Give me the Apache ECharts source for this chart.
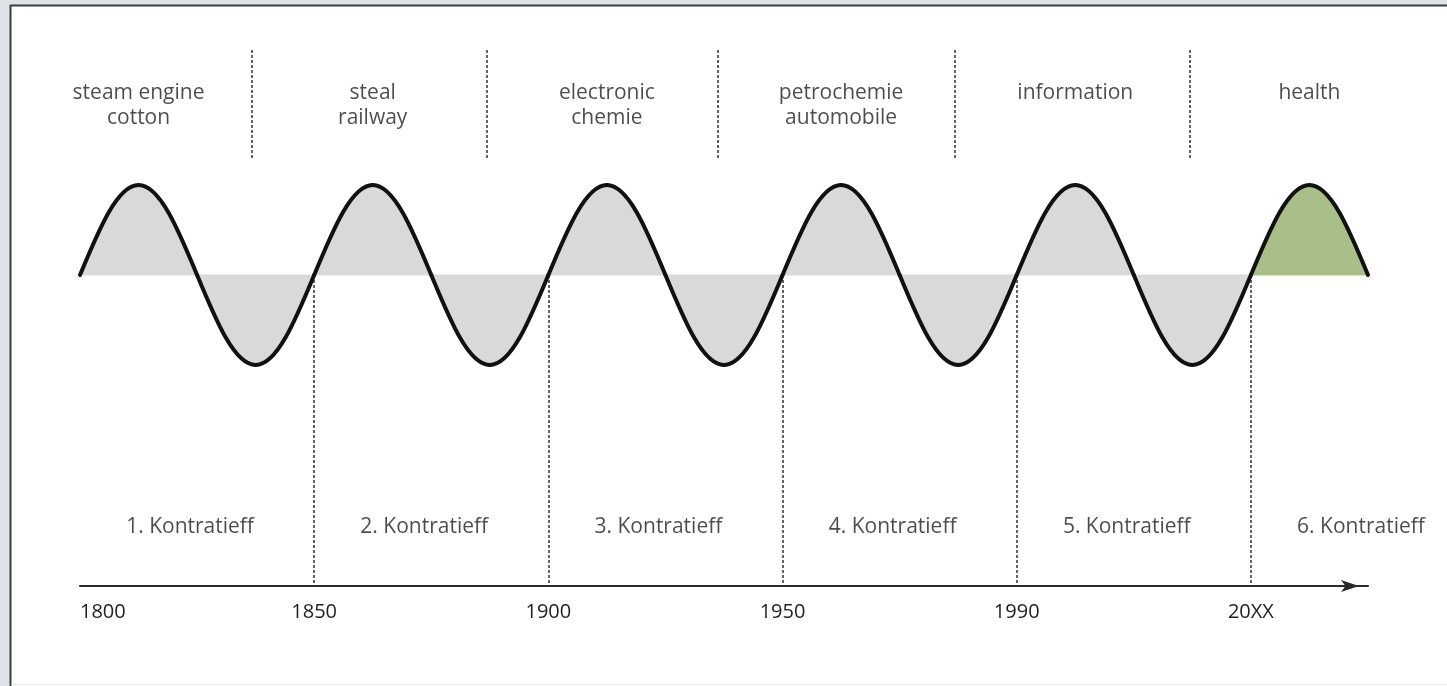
<!DOCTYPE html>
<html>
<head>
<meta charset="utf-8">
<script src="https://cdn.jsdelivr.net/npm/echarts@6/dist/echarts.min.js"></script>
<style>
html,body{margin:0;padding:0;background:#dfe3e7;}
#chart{width:1447px;height:686px;}
</style>
</head>
<body>
<div id="chart"></div>
<script>
// Wave key points (crossings and extremes), position in cycles (1 unit = one Kondratieff cycle)
const waveX = [0,0.25,0.5,0.75,1,1.25,1.5,1.75,2,2.25,2.5,2.75,3,3.25,3.5,3.75,4,4.25,4.5,4.75,5,5.25,5.5];
const waveY = [0,1,0,-1,0,1,0,-1,0,1,0,-1,0,1,0,-1,0,1,0,-1,0,1,0];
const tickLabels = ['1800','1850','1900','1950','1990','20XX'];
const industries = ['steam engine\ncotton','steal\nrailway','electronic\nchemie','petrochemie\nautomobile','information','health'];
const waveNames = ['1. Kontratieff','2. Kontratieff','3. Kontratieff','4. Kontratieff','5. Kontratieff','6. Kontratieff'];
const cycleStarts = [1,2,3,4,5];
const dividers = [0.735,1.735,2.725,3.735,4.74];
const greenStart = 5;

const segments = [];
for (let i = 1; i < waveX.length; i++) segments.push([waveX[i-1], waveY[i-1], waveX[i], waveY[i]]);

const FONT = 'Open Sans';
const TXT = '#1f1f1f';
const Y_MIN = -3.456, Y_MAX = 2.5;
const GRAY = '#d9d9d9', GREEN = '#a9bf8a';

const chart = echarts.init(document.getElementById('chart'), null, {renderer:'canvas'});
const dashStyle = {color:'#333333', width:1.5, type:[3,2]};

function renderSegment(params, api) {
  const x0 = api.value(0), y0 = api.value(1), x1 = api.value(2), y1 = api.value(3);
  const a = api.coord([x0, y0]);
  const b = api.coord([x1, y1]);
  const ba = api.coord([x0, 0]);
  const bb = api.coord([x1, 0]);
  const dx = b[0] - a[0], dy = b[1] - a[1];
  let c1, c2;
  if (y0 === 0) { // crossing -> extreme (quarter sine)
    c1 = [a[0] + 0.3265 * dx, a[1] + 0.5128 * dy];
    c2 = [a[0] + 0.6379 * dx, b[1]];
  } else {        // extreme -> crossing
    c1 = [a[0] + 0.3621 * dx, a[1]];
    c2 = [a[0] + 0.6735 * dx, a[1] + 0.4872 * dy];
  }
  const curve = 'C' + c1[0] + ' ' + c1[1] + ' ' + c2[0] + ' ' + c2[1] + ' ' + b[0] + ' ' + b[1];
  const area = 'M' + ba[0] + ' ' + ba[1] + ' L' + a[0] + ' ' + a[1] + ' ' + curve + ' L' + bb[0] + ' ' + bb[1] + ' Z';
  const line = 'M' + a[0] + ' ' + a[1] + ' ' + curve;
  const fill = x0 >= greenStart ? GREEN : GRAY;
  return {
    type:'group',
    children:[
      {type:'path', shape:{pathData:area}, style:{fill: fill, stroke: fill, lineWidth:1}, z2:0},
      {type:'path', shape:{pathData:line}, style:{fill:null, stroke:'#111111', lineWidth:4, lineCap:'round', lineJoin:'round'}, z2:10}
    ]
  };
}

chart.setOption({
  animation:false,
  backgroundColor:'#dfe3e7',
  graphic:[
    {type:'rect', z:-10, shape:{x:10,y:5,width:1437,height:681}, style:{fill:'#ffffff'}},
    {type:'line', z:-9, shape:{x1:10.5,y1:5,x2:10.5,y2:686}, style:{stroke:'#3c3c3c',lineWidth:2}},
    {type:'line', z:-9, shape:{x1:10,y1:5.5,x2:1447,y2:5.5}, style:{stroke:'#3c3c3c',lineWidth:2}},
    {type:'line', z:-9, shape:{x1:11,y1:684.5,x2:1447,y2:684.5}, style:{stroke:'#e6e9ec',lineWidth:1}}
  ],
  grid:{left:80,right:79,top:50,bottom:100},
  xAxis:{
    type:'value', min:0, max:5.5, interval:1,
    axisLine:{onZero:false, symbol:['none','arrow'], symbolSize:[9,18], symbolOffset:[0,-9],
      lineStyle:{color:'#2a2a2a', width:2}},
    axisTick:{show:false},
    splitLine:{show:false},
    axisLabel:{
      margin:16, color:TXT, fontFamily:FONT, fontSize:20,
      alignMinLabel:'left', showMaxLabel:false,
      formatter:(v)=> (Number.isInteger(v) && tickLabels[v] !== undefined) ? tickLabels[v] : ''
    }
  },
  yAxis:{type:'value', min:Y_MIN, max:Y_MAX, show:false, splitLine:{show:false}},
  series:[
    {
      type:'custom', data:segments, renderItem:renderSegment, clip:false,
      encode:{x:[0,2], y:[1,3]}, z:2,
      markLine:{
        silent:true, symbol:'none', label:{show:false}, lineStyle:dashStyle, z:1,
        data: cycleStarts.map(x=>[{coord:[x,0]},{coord:[x,Y_MIN]}])
          .concat(dividers.map(x=>[{coord:[x,2.5]},{coord:[x,1.3]}]))
      }
    },
    {
      type:'scatter', symbolSize:0, z:4,
      data: industries.map((t,i)=>({value:[i+0.25, 2.161], name:t})),
      label:{show:true, position:'bottom', distance:0, formatter:p=>p.name,
        color:TXT, fontFamily:FONT, fontSize:21, lineHeight:25, align:'center'}
    },
    {
      type:'scatter', symbolSize:0, z:4,
      data: waveNames.map((t,i)=>({value:[i+0.47, -2.8], name:t})),
      label:{show:true, position:'inside', formatter:p=>p.name,
        color:TXT, fontFamily:FONT, fontSize:21}
    }
  ]
});
</script>
</body>
</html>
